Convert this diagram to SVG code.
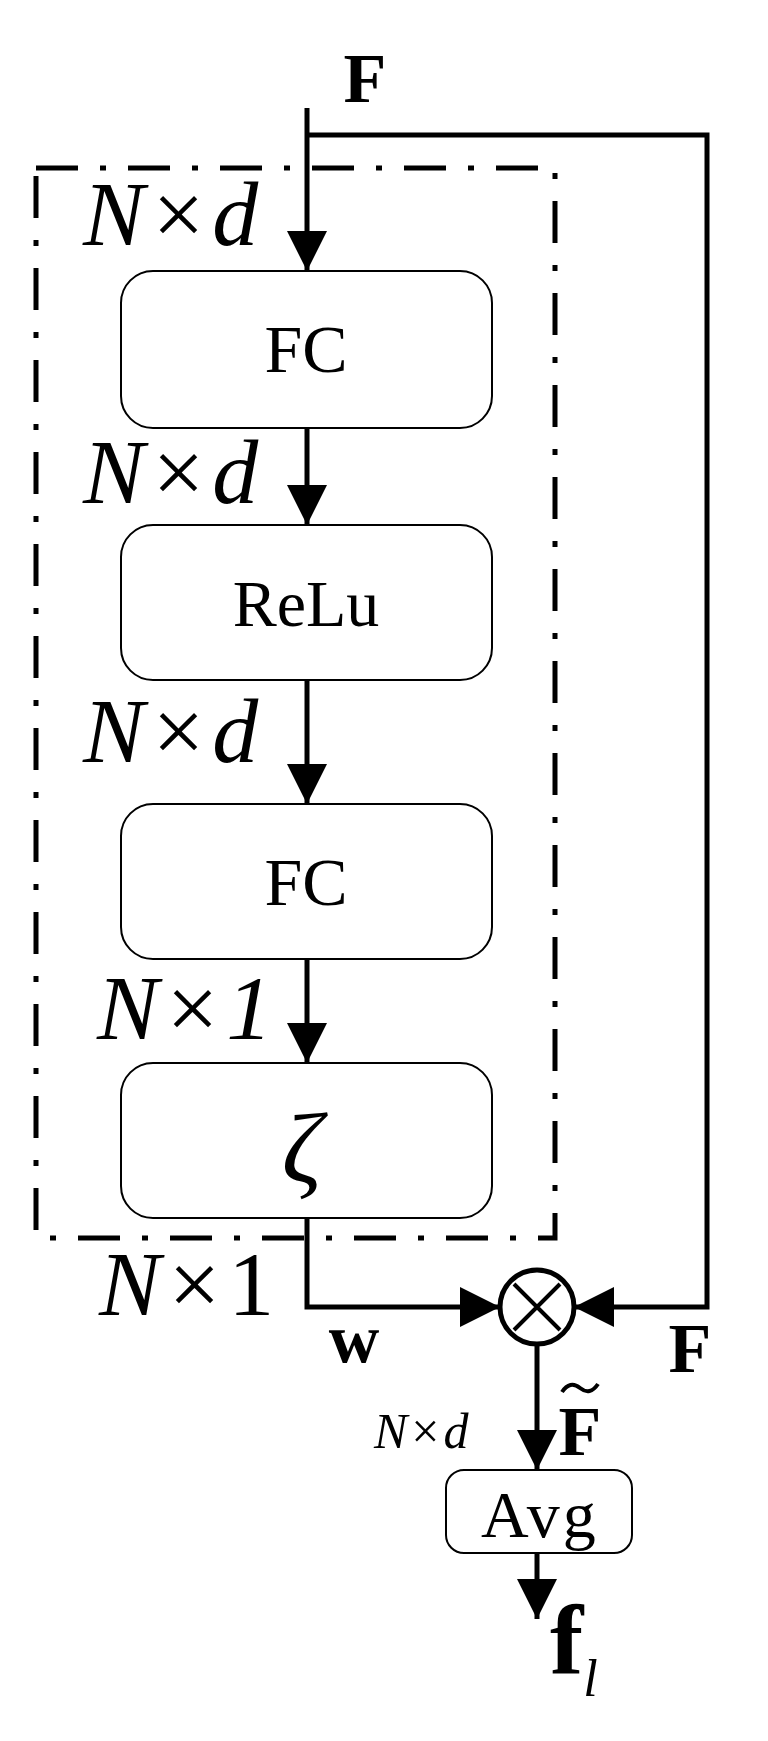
<svg xmlns="http://www.w3.org/2000/svg" width="768" height="1741" viewBox="0 0 768 1741">
<defs>
<marker id="ah" markerWidth="40" markerHeight="40" refX="40" refY="20" orient="auto" markerUnits="userSpaceOnUse"><path d="M0,0 L40,20 L0,40 Z" fill="#000"/></marker>
<style>
.box{fill:#fff;stroke:#000;stroke-width:2}
.ln{fill:none;stroke:#000;stroke-width:5}
.t{font-family:"Liberation Serif","Times New Roman",serif;fill:#000}
.i{font-style:italic}
.b{font-weight:bold}
</style>
</defs>
<rect x="0" y="0" width="768" height="1741" fill="#fff"/>
<rect id="group" x="36" y="168" width="519" height="1070" fill="none" stroke="#000" stroke-width="5" stroke-dasharray="42 22 6 22"/>
<g id="connectors">
<path class="ln" d="M307,108 V271" marker-end="url(#ah)"/>
<path class="ln" d="M307,135 H707 V1307 H574" marker-end="url(#ah)"/>
<path class="ln" d="M307,428 V525" marker-end="url(#ah)"/>
<path class="ln" d="M307,680 V804" marker-end="url(#ah)"/>
<path class="ln" d="M307,959 V1063" marker-end="url(#ah)"/>
<path class="ln" d="M307,1218 V1307 H500" marker-end="url(#ah)"/>
<path class="ln" d="M537,1344 V1470" marker-end="url(#ah)"/>
<path class="ln" d="M537,1553 V1619" marker-end="url(#ah)"/>
</g>
<g id="fc1"><rect class="box" x="121" y="271" width="371" height="157" rx="32"/><text class="t" x="306" y="372" font-size="68" text-anchor="middle">FC</text></g>
<g id="relu"><rect class="box" x="121" y="525" width="371" height="155" rx="32"/><text class="t" x="306" y="626" font-size="66" text-anchor="middle">ReLu</text></g>
<g id="fc2"><rect class="box" x="121" y="804" width="371" height="155" rx="32"/><text class="t" x="306" y="905" font-size="68" text-anchor="middle">FC</text></g>
<g id="zeta"><rect class="box" x="121" y="1063" width="371" height="155" rx="32"/><text class="t i" x="302" y="1182" font-size="100" text-anchor="middle">ζ</text></g>
<g id="mult"><circle cx="537" cy="1307" r="37" fill="#fff" stroke="#000" stroke-width="5"/><path d="M514,1284 L560,1330 M560,1284 L514,1330" stroke="#000" stroke-width="4"/></g>
<g id="avg"><rect class="box" x="446" y="1470" width="186" height="83" rx="18"/><text class="t" x="540" y="1537" font-size="66" text-anchor="middle" letter-spacing="3">Avg</text></g>
<g id="labels">
<text class="t b" x="365" y="102" font-size="70" text-anchor="middle">F</text>
<text class="t i" x="83" y="245" font-size="92">N<tspan font-style="normal" dx="8">×</tspan><tspan dx="8">d</tspan></text>
<text class="t i" x="83" y="503" font-size="92">N<tspan font-style="normal" dx="8">×</tspan><tspan dx="8">d</tspan></text>
<text class="t i" x="83" y="762" font-size="92">N<tspan font-style="normal" dx="8">×</tspan><tspan dx="8">d</tspan></text>
<text class="t i" x="97" y="1039" font-size="92">N<tspan font-style="normal" dx="8">×</tspan><tspan dx="8">1</tspan></text>
<text class="t i" x="99" y="1315" font-size="92">N<tspan font-style="normal" dx="8">×</tspan><tspan font-style="normal" dx="8">1</tspan></text>
<text class="t b" x="354" y="1362" font-size="70" text-anchor="middle">w</text>
<text class="t b" x="690" y="1372" font-size="70" text-anchor="middle">F</text>
<text class="t b" x="580" y="1455" font-size="70" text-anchor="middle">F</text>
<path d="M562,1392 Q570,1380 580,1388 T598,1384" fill="none" stroke="#000" stroke-width="4"/>
<text class="t i" x="374" y="1448" font-size="50">N<tspan font-style="normal" dx="4">×</tspan><tspan dx="4">d</tspan></text>
<text class="t b" x="550" y="1674" font-size="100">f<tspan class="i" font-weight="normal" font-size="52" dy="22">l</tspan></text>
</g>
</svg>
